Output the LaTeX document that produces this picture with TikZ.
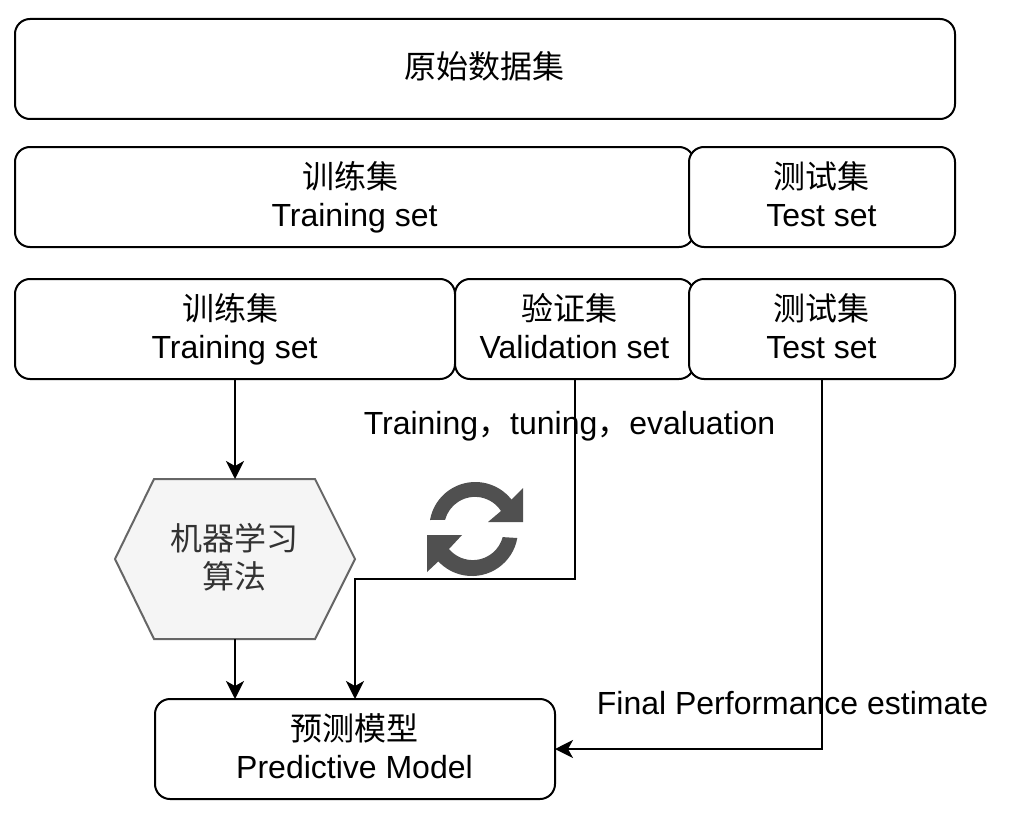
\documentclass[tikz,border=0pt]{standalone}
\usepackage{fontspec}
\setmainfont{Liberation Sans}
\newfontfamily\cjk{Noto Sans CJK SC}
\usetikzlibrary{arrows.meta}
% one line of a box: text, then a fixed strut and a trailing nudge
\newcommand{\linecn}[2]{{\cjk #1}\rule[-6.4pt]{0pt}{28pt}\hspace*{#2pt}}
\newcommand{\linela}[2]{#1\rule[-6.4pt]{0pt}{28pt}\hspace*{#2pt}}
\tikzset{
  box/.style={draw=black,line width=2pt,rounded corners=15pt,fill=white,inner sep=0pt,outer sep=0pt,
    align=center,font=\fontsize{32}{38}\selectfont,text=black},
  lbl/.style={inner sep=0pt,outer sep=0pt,font=\fontsize{32}{38}\selectfont,text=black},
  hexlabel/.style={inner sep=0pt,outer sep=0pt,align=center,font=\fontsize{32}{38}\selectfont,text=hextext,minimum width=240pt,minimum height=160pt},
  hexshape/.style={draw=hexline,fill=hexfill,line width=2pt,line join=miter},
  flow/.style={draw=black,line width=2pt,-{Stealth[length=18pt,width=18pt,inset=5pt]}},
  spin/.style={fill=spincol,draw=none}
}
\definecolor{hexline}{HTML}{666666}
\definecolor{hexfill}{HTML}{F5F5F5}
\definecolor{hextext}{HTML}{333333}
\definecolor{spincol}{HTML}{505050}
\begin{document}
\begin{tikzpicture}[x=1pt,y=-1pt]
\useasboundingbox (0,0) rectangle (1014,824);
\node[box,minimum width=940pt,minimum height=100pt] (raw) at (485,69) {{\cjk 原始数据集}\rule[-8pt]{0pt}{30pt}\hspace*{1pt}};
\node[box,minimum width=679pt,minimum height=100pt] (trainA) at (354.5,197) {\linecn{训练集}{9}\\\linela{Training set}{0}};
\node[box,minimum width=266pt,minimum height=100pt] (testA) at (822,197) {\linecn{测试集}{1}\\\linela{Test set}{1}};
\node[box,minimum width=440pt,minimum height=100pt] (trainB) at (235,329) {\linecn{训练集}{9}\\\linela{Training set}{1}};
\node[box,minimum width=239pt,minimum height=100pt] (val) at (574.5,329) {\linecn{验证集}{10}\\\linela{Validation set}{0}};
\node[box,minimum width=266pt,minimum height=100pt] (testB) at (822,329) {\linecn{测试集}{1}\\\linela{Test set}{1}};
\node[box,minimum width=400pt,minimum height=100pt] (model) at (355,749) {\linecn{预测模型}{2}\\\linela{Predictive Model}{1}};
\draw[hexshape] (115,559) -- (154,479) -- (315,479) -- (355,559) -- (315,639) -- (154,639) -- cycle;
\node[hexlabel] (algo) at (235,559) {\linecn{机器学习}{1}\\\linecn{算法}{1}};
\coordinate (turn) at (355,579);
\draw[flow] (trainB.south) -- (algo.north);
\draw[flow] (algo.south) -- (algo.south |- model.north);
\draw[flow] (val.south) |- (turn) -- (model.north);
\draw[flow] (testB.south) |- (model.east);
\node[lbl] (lblA) at (569.5,426) {Training{\cjk ，}tuning{\cjk ，}evaluation};
\node[lbl] (lblB) at (792.5,703) {Final Performance estimate};
\path[spin] (430,520) arc[start angle=190,end angle=322,radius=46] -- (523,488) -- (523,522) -- (488,522) -- (501,511) arc[start angle=327,end angle=195,radius=31] -- cycle;
\path[spin] (517.3,538) arc[start angle=10,end angle=137,radius=46] -- (427,572) -- (427,535) -- (462,535) -- (449,549) arc[start angle=140,end angle=15,radius=31] -- cycle;
\end{tikzpicture}
\end{document}
